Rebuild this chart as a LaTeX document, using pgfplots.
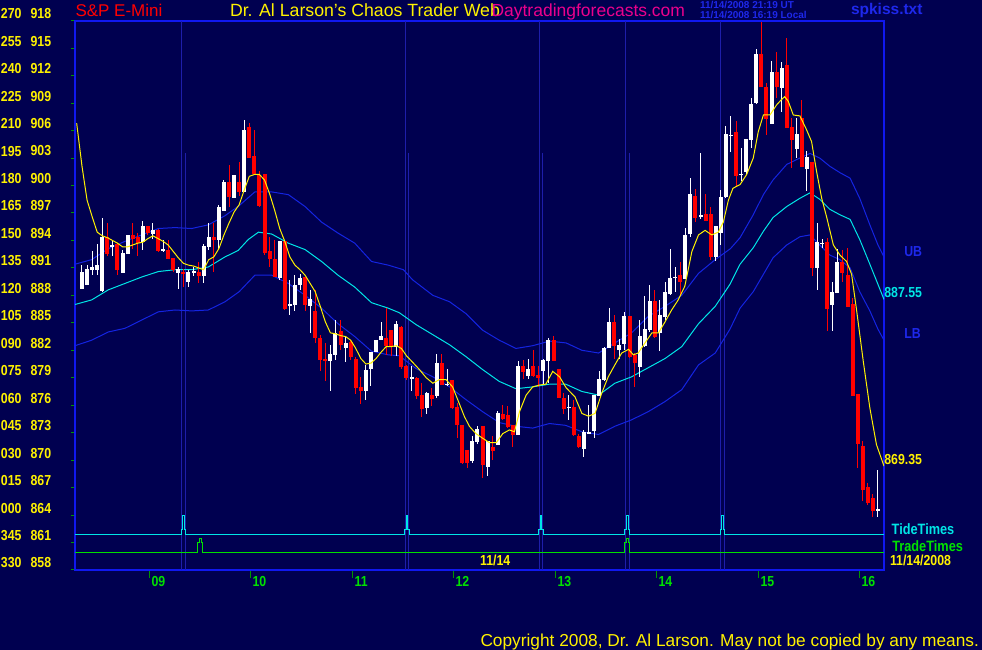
\documentclass[border=0pt]{standalone}
\usepackage{pgfplots}
\usepackage{pgfplotstable}
\pgfplotsset{compat=1.18}
\usepackage{fontspec}
\setmainfont{Liberation Sans}
\newfontfamily\nb[FakeStretch=0.85]{Liberation Sans}
\newcommand\F[1]{\fontsize{#1}{#1}\selectfont}

\definecolor{bg}{RGB}{0,0,80}
\definecolor{frame}{RGB}{16,24,240}
\definecolor{tickgreen}{RGB}{0,150,0}
\definecolor{hourgreen}{RGB}{0,225,0}
\definecolor{bandblue}{RGB}{20,36,225}
\definecolor{midcyan}{RGB}{0,230,230}
\definecolor{tideline}{RGB}{30,30,170}
\definecolor{txtblue}{RGB}{30,40,235}
\definecolor{candlered}{RGB}{255,0,0}

% 3-minute bars, x = bar number
% rising bars (close >= open)
\pgfplotstableread{
i o h l c
0 888.7 891.3 888.7 890.6
1 889.1 891.3 889.1 890.9
2 890.8 892.9 890.2 891.1
3 890.8 893.6 890.2 891.3
4 888.5 896.4 888.4 894.4
6 893.4 893.9 892.3 893.4
8 890.5 892.9 890.5 892.6
9 892.5 894.6 892.5 894.6
12 893.8 896.1 893.0 895.6
14 894.7 895.9 894.2 895.1
16 893.0 894.1 892.7 893.0
19 890.5 891.1 888.7 890.9
21 889.5 890.8 888.9 890.6
22 890.6 891.1 890.1 890.6
24 890.1 893.6 889.4 893.4
25 893.3 895.9 893.0 894.4
27 894.1 897.9 893.0 897.7
28 897.2 900.6 897.2 900.4
30 898.6 901.2 898.6 901.2
32 899.3 907.2 899.3 906.1
39 889.9 893.9 889.7 893.9
41 886.8 889.7 885.9 887.1
42 887.0 890.2 886.3 889.1
43 889.1 890.3 888.6 889.9
45 886.8 888.6 883.9 887.6
49 880.8 882.6 877.6 881.6
50 881.5 885.3 880.9 883.9
52 882.3 883.5 880.7 882.8
56 877.5 880.4 876.6 879.9
57 880.0 881.8 878.1 881.8
58 881.8 883.1 881.8 883.1
59 883.1 885.1 883.1 883.6
62 882.4 885.2 881.4 884.9
65 879.0 880.3 877.6 879.0
68 875.7 877.4 875.1 877.3
70 877.0 881.6 876.8 880.6
72 878.3 880.0 878.1 878.3
77 869.9 872.6 869.7 872.1
78 872.0 873.7 871.8 873.4
80 869.3 872.1 868.3 872.1
82 871.7 875.4 871.7 875.1
86 872.8 880.8 872.8 880.3
88 879.2 881.1 878.9 880.0
91 879.8 881.0 878.2 881.0
92 880.8 883.3 878.4 883.1
96 875.8 877.1 874.4 875.8
99 871.2 873.3 870.4 873.1
100 873.0 876.0 872.9 873.0
101 873.2 877.1 872.4 877.1
102 877.0 879.7 877.0 878.9
103 878.8 882.4 878.7 882.3
104 882.3 886.6 882.3 885.1
106 882.0 883.2 881.1 882.6
107 882.7 886.2 882.0 885.7
110 880.2 885.3 879.1 883.6
111 882.5 887.9 882.4 884.3
112 884.2 889.1 884.0 887.4
114 883.9 887.5 881.9 885.9
115 885.6 889.5 885.3 888.4
116 888.2 893.1 888.0 889.9
117 890.0 891.1 888.4 890.0
119 889.8 895.4 889.8 894.6
120 894.7 900.8 894.4 899.1
122 896.7 903.6 896.3 896.7
125 892.2 895.6 891.7 895.6
126 894.8 899.5 893.5 898.8
127 898.7 906.5 898.6 905.6
128 905.5 907.6 903.7 905.5
130 901.2 904.1 900.5 901.2
131 901.5 905.1 901.3 905.1
132 905.0 909.6 904.1 908.9
133 909.0 914.9 908.9 914.4
136 906.7 913.6 906.7 912.4
138 910.6 913.5 908.0 912.8
141 904.0 907.4 903.0 905.6
143 901.8 903.8 899.4 903.1
145 891.0 895.9 888.6 893.8
146 893.7 894.1 893.2 893.7
148 887.0 889.5 884.1 888.4
149 888.3 893.1 888.3 891.6
157 864.6 868.9 863.8 864.6
}\upbars

% falling bars (close < open)
\pgfplotstableread{
i o h l c
5 894.4 895.9 892.3 892.5
7 893.6 893.7 890.2 890.8
10 894.6 895.9 893.1 894.2
11 894.4 894.8 892.3 893.7
13 895.6 895.6 894.6 894.8
15 895.1 895.3 892.7 892.8
17 893.0 894.1 892.0 892.0
18 892.1 892.1 890.5 890.8
20 890.6 890.9 888.9 890.4
23 890.6 891.6 889.4 890.1
26 894.4 895.9 890.6 894.0
29 900.4 902.2 897.7 898.7
31 900.4 902.6 898.9 899.3
33 906.4 906.8 903.0 903.0
34 903.2 906.1 901.3 901.3
35 901.2 901.6 897.7 897.8
36 901.2 901.2 892.4 892.6
37 892.9 894.4 891.1 892.0
38 892.0 894.1 890.0 890.0
40 893.9 893.9 886.4 886.5
44 890.0 890.0 886.3 887.0
46 886.3 888.6 882.8 883.3
47 883.4 883.7 879.7 881.0
48 881.1 882.8 878.7 880.8
51 884.1 885.3 882.0 882.6
53 882.9 883.1 880.9 881.3
54 881.1 881.3 877.2 877.9
55 878.0 879.1 876.1 877.5
60 883.3 886.6 881.5 882.5
61 884.2 884.2 881.4 882.5
63 884.6 884.6 880.0 880.2
64 880.3 880.4 878.8 879.0
66 879.0 879.1 876.7 877.0
67 877.1 878.4 874.7 875.6
69 877.1 877.9 875.9 876.7
71 880.6 881.6 878.2 878.2
73 878.8 878.8 875.6 875.7
74 875.8 876.3 872.4 873.8
75 873.8 873.8 869.6 869.7
76 871.1 871.1 869.1 869.7
79 873.7 873.7 868.1 869.5
81 871.4 872.6 870.0 871.0
83 875.1 876.0 874.4 874.5
84 874.9 875.9 873.5 873.6
85 873.8 873.8 871.4 872.8
87 880.3 881.0 878.9 879.6
89 880.3 882.0 879.1 879.2
90 879.3 880.3 878.0 879.0
93 883.1 883.6 880.8 880.8
94 880.0 880.0 876.8 876.8
95 876.8 877.3 875.1 875.6
97 875.8 876.6 872.6 872.8
98 872.6 872.9 871.3 871.4
105 885.1 885.9 881.1 882.5
108 885.7 885.7 881.2 881.3
109 881.5 881.7 878.0 880.6
113 887.4 888.6 883.4 883.5
118 890.2 891.7 887.9 889.5
121 898.9 899.6 896.0 896.5
123 896.9 899.1 896.1 896.1
124 896.9 897.7 891.9 892.2
129 905.8 907.1 899.9 901.1
134 914.4 917.9 910.8 910.8
135 910.8 911.2 905.5 907.3
137 912.4 914.6 909.6 910.8
139 913.2 916.1 906.3 906.3
140 906.4 907.4 901.9 905.0
142 907.4 909.4 902.0 902.0
144 902.6 902.6 890.1 891.0
147 893.8 894.3 884.1 886.5
150 891.6 893.0 889.5 890.4
151 890.2 893.2 886.7 886.7
152 887.1 887.7 877.0 877.0
153 877.2 877.2 869.1 871.8
154 871.6 872.1 865.5 866.8
155 867.1 867.5 865.1 865.3
156 865.9 866.3 863.8 864.5
}\downbars

\begin{document}
\begin{tikzpicture}[every node/.style={inner sep=0pt, outer sep=0pt}]
\useasboundingbox (0,0) rectangle (982pt,650pt);
\fill[bg] (0,0) rectangle (982pt,650pt);

\begin{axis}[
  at={(75pt,80pt)}, anchor=south west,
  scale only axis, width=809pt, height=549.3pt,
  xmin=-1.38, xmax=158.19, ymin=858, ymax=918,
  axis line style={draw=frame, line width=2pt},
  xtick={13.27,33.2,53.31,73.23,93.35,113.27,133.39,153.31}, xticklabels={},
  ytick={858,861,...,918}, yticklabels={},
  tick align=outside, xtick pos=bottom, ytick pos=left,
  xtick style={draw=tickgreen, line width=1pt, /pgfplots/major tick length=8pt},
  ytick style={draw=tickgreen, line width=1pt, /pgfplots/major tick length=4pt},
  unbounded coords=jump,
  candle/.style 2 args={draw=none, mark=none, forget plot,
    error bars/.cd, y dir=both, y explicit, error mark=none,
    error bar style={draw=#1, line width=#2, solid}},
]

% tide-time markers
\addplot[tideline, line width=0.8pt] coordinates {
 (19.63,858) (19.63,918) (19.63,nan)
 (20.33,858) (20.33,903.55) (20.33,nan)
 (63.75,858) (63.75,918) (63.75,nan)
 (64.45,858) (64.45,903.55) (64.45,nan)
 (90.15,858) (90.15,918) (90.15,nan)
 (90.85,858) (90.85,903.55) (90.85,nan)
 (107.2,858) (107.2,918) (107.2,nan)
 (107.9,858) (107.9,903.55) (107.9,nan)
 (125.95,858) (125.95,918) (125.95,nan)
 (126.65,858) (126.65,903.55)
};

% bands
\addplot[bandblue, line width=1pt] coordinates {
(-1.38,891.4) (1.9,891.9) (5.19,893.1) (8.48,893.9) (11.77,894.6) (15.06,895.3) (18.34,895.4) (21.63,895.3) (24.92,895.7) (28.21,896.7) (31.0,897.8) (34.1,899.3) (37.4,899.3) (40.7,899.0) (44.0,897.7) (47.25,896.0) (50.5,894.8) (53.8,893.7) (57.1,891.7) (60.4,891.3) (63.4,890.8) (65.2,889.7) (69.2,888.0) (72.5,887.3) (75.75,886.0) (79.0,884.2) (82.3,883.1) (85.6,882.2) (88.9,882.5) (92.2,883.0) (95.5,882.8) (98.6,882.0) (101.9,881.7) (105.1,882.8) (108.4,883.9) (111.7,885.7) (115.0,886.8) (118.3,888.0) (121.6,890.4) (124.9,891.9) (127.9,893.1) (129.8,894.3) (132.4,896.8) (134.4,899.0) (136.3,900.6) (139.0,902.3) (141.6,903.0) (143.6,903.5) (145.5,903.0) (147.5,902.1) (149.5,901.4) (151.5,900.8) (153.4,898.6) (155.4,895.7) (157.0,893.5) (158.19,892.2)
};
\addplot[bandblue, line width=1pt] coordinates {
(-1.38,882.5) (1.9,883.1) (5.19,884.0) (8.48,884.4) (11.77,885.3) (15.06,886.2) (18.34,886.4) (21.63,886.3) (24.92,886.4) (28.21,887.3) (31.0,888.4) (34.1,890.2) (37.4,890.2) (40.7,889.3) (44.0,888.0) (47.25,886.6) (50.5,884.9) (53.8,883.5) (57.1,881.9) (60.4,881.5) (62.6,881.4) (65.9,880.0) (69.2,879.1) (72.5,878.0) (75.75,876.6) (79.0,875.3) (82.3,874.1) (85.6,873.7) (88.9,873.5) (92.2,874.0) (95.4,873.8) (98.6,873.1) (101.9,872.8) (105.1,873.7) (108.4,874.4) (111.7,875.3) (115.0,876.4) (118.3,877.7) (121.6,880.4) (124.9,881.7) (127.8,884.3) (129.8,886.6) (132.4,888.4) (134.4,890.3) (136.3,892.1) (139.0,893.5) (141.6,894.4) (143.6,894.6) (145.5,893.5) (147.5,892.4) (149.5,891.9) (151.5,891.0) (153.4,888.4) (155.4,886.3) (157.0,884.3) (158.19,883.1)
};
\addplot[midcyan, line width=1pt] coordinates {
(-1.38,887.0) (1.9,887.5) (5.19,888.6) (8.48,889.3) (11.77,890.0) (15.06,890.6) (18.34,890.8) (21.63,890.8) (24.92,891.1) (28.21,892.2) (30.8,892.9) (32.8,894.1) (34.8,894.9) (37.4,894.7) (40.7,893.7) (44.0,893.0) (47.25,891.7) (50.5,890.2) (53.8,888.9) (57.1,887.2) (60.4,886.6) (62.6,886.1) (65.9,884.8) (69.2,883.7) (72.5,882.6) (75.75,881.3) (79.0,879.9) (82.3,878.6) (85.6,877.8) (88.9,878.0) (92.2,878.3) (95.4,878.3) (98.6,877.5) (101.9,877.1) (105.1,878.4) (108.4,879.1) (111.7,880.1) (115.0,881.1) (118.3,882.4) (121.6,884.9) (124.9,886.8) (127.8,889.2) (129.8,891.4) (132.4,893.2) (134.4,895.0) (136.3,896.5) (139.0,897.7) (141.6,898.6) (143.6,899.2) (145.5,898.5) (147.5,897.4) (149.5,896.8) (151.5,896.3) (153.4,894.1) (155.4,891.4) (157.0,889.2) (158.19,887.55)
};

% TideTimes and TradeTimes traces
\addplot[midcyan, line width=1pt] coordinates {
(-1.38,861.9) (19.53,861.9) (19.53,862.37) (19.83,862.37) (19.83,863.9) (20.13,863.9) (20.13,862.37) (20.43,862.37) (20.43,861.9)
(63.65,861.9) (63.65,862.37) (63.95,862.37) (63.95,863.9) (64.25,863.9) (64.25,862.37) (64.55,862.37) (64.55,861.9)
(90.05,861.9) (90.05,862.37) (90.35,862.37) (90.35,863.9) (90.65,863.9) (90.65,862.37) (90.95,862.37) (90.95,861.9)
(107.1,861.9) (107.1,862.37) (107.4,862.37) (107.4,863.9) (107.7,863.9) (107.7,862.37) (108.0,862.37) (108.0,861.9)
(125.85,861.9) (125.85,862.37) (126.15,862.37) (126.15,863.9) (126.45,863.9) (126.45,862.37) (126.75,862.37) (126.75,861.9)
(158.19,861.9)
};
\addplot[hourgreen, line width=1pt] coordinates {
(-1.38,859.93) (22.88,859.93) (22.88,860.98) (23.18,860.98) (23.18,861.47) (23.48,861.47) (23.48,860.98) (23.78,860.98) (23.78,859.93)
(107.1,859.93) (107.1,860.98) (107.4,860.98) (107.4,861.47) (107.7,861.47) (107.7,860.98) (108.0,860.98) (108.0,859.93)
(158.19,859.93)
};

% candles: wicks then bodies
\addplot[candle={white}{1pt}]
  table[x=i, y expr={(\thisrow{h}+\thisrow{l})/2}, y error expr={(\thisrow{h}-\thisrow{l})/2}] {\upbars};
\addplot[candle={white}{4pt}]
  table[x=i, y expr={(\thisrow{o}+\thisrow{c})/2}, y error expr={max(abs(\thisrow{c}-\thisrow{o})/2,0.055)}] {\upbars};
\addplot[candle={candlered}{1pt}]
  table[x=i, y expr={(\thisrow{h}+\thisrow{l})/2}, y error expr={(\thisrow{h}-\thisrow{l})/2}] {\downbars};
\addplot[candle={candlered}{4pt}]
  table[x=i, y expr={(\thisrow{o}+\thisrow{c})/2}, y error expr={max(abs(\thisrow{c}-\thisrow{o})/2,0.055)}] {\downbars};

% short moving average
\addplot[yellow, line width=1pt] coordinates {
(-1.05,906.8) (0,902.1) (1,898.4) (2,896.6) (3,894.9) (4,894.5) (5,894.3) (6,894.0) (7,893.7) (8,893.3) (9,893.3) (10,893.5) (11,893.7) (12,893.8) (13,894.2) (14,894.5) (15,894.2) (16,893.9) (17,893.5) (18,892.8) (19,892.1) (20,891.5) (21,891.3) (22,891.2) (23,891.0) (24,890.8) (25,891.9) (26,892.2) (27,893.1) (28,894.6) (29,895.9) (30,897.1) (31,897.9) (32,899.5) (33,901.0) (34,901.2) (35,901.2) (36,900.6) (37,899.1) (38,897.3) (39,895.3) (40,893.9) (41,892.2) (42,891.3) (43,890.8) (44,890.2) (45,889.3) (46,888.4) (47,886.8) (48,885.1) (49,883.9) (50,883.8) (51,883.6) (52,883.5) (53,883.1) (54,882.2) (55,881.1) (56,880.5) (57,880.6) (58,881.1) (59,881.8) (60,882.4) (61,882.4) (62,882.5) (63,882.2) (64,881.4) (65.2,880.7) (66.55,879.9) (67.9,879.0) (69.2,878.4) (70.5,878.8) (71.8,878.8) (73.1,878.0) (74.4,876.2) (75.4,874.8) (76.4,873.7) (77.7,872.9) (79.0,872.4) (80.4,871.9) (81.7,871.9) (83.0,872.9) (84.3,873.3) (85.3,873.1) (86.3,875.3) (87.6,877.1) (88.9,878.0) (90.2,878.2) (91.5,878.3) (92.85,879.7) (94.2,879.1) (95.5,877.9) (97.25,876.9) (98.6,875.1) (99.9,874.8) (101.2,875.1) (102.5,877.3) (103.8,879.1) (105.1,880.4) (106.45,881.7) (107.8,882.1) (108.75,881.5) (109.7,881.7) (111.05,882.8) (112.4,883.9) (113.7,883.9) (115.0,885.1) (116.3,886.4) (117.6,887.5) (118.9,889.0) (120.3,892.8) (121.6,894.6) (122.9,895.1) (124.2,894.6) (125.5,894.9) (126.5,896.0) (127.5,898.4) (128.4,899.7) (129.8,900.1) (131.1,901.2) (132.4,903.0) (133.4,905.9) (134.4,907.7) (135.7,907.7) (137.0,908.8) (138.0,909.4) (138.6,909.7) (139.3,909.2) (140.3,907.7) (141.6,907.6) (142.9,906.1) (143.9,904.8) (144.9,901.5) (145.9,898.6) (146.9,896.5) (148.2,893.5) (149.5,892.4) (150.8,891.7) (151.8,890.3) (152.8,886.3) (154.1,880.8) (155.4,875.7) (156.7,871.7) (158.19,869.35)
};

\node[anchor=center, text=yellow, font=\nb\bfseries\F{14.5pt}] at (axis cs:81.5,858) [yshift=10pt] {11/14};
\end{axis}

% price and angle scale
\foreach \a/\b [count=\k from 0] in {270/918,255/915,240/912,225/909,210/906,195/903,180/900,165/897,150/894,135/891,120/888,105/885,090/882,075/879,060/876,045/873,030/870,015/867,000/864,345/861,330/858}{
  \node[anchor=east, text=yellow, font=\nb\bfseries\F{14.5pt}] at ({21.5pt},{636.3pt-27.465pt*\k}) {\a};
  \node[anchor=east, text=yellow, font=\nb\bfseries\F{14.5pt}] at ({51.2pt},{636.3pt-27.465pt*\k}) {\b};
}

% hour labels
\foreach \x/\h in {151.6/09,252.6/10,354.6/11,455.6/12,557.6/13,658.6/14,760.6/15,861.6/16}{
  \node[anchor=west, text=hourgreen, font=\nb\bfseries\F{14.5pt}] at (\x pt,68.3pt) {\h};
}

% header
\node[anchor=base west, text=candlered, font=\F{17pt}] at (75.5pt,633.3pt) {S\&P E-Mini};
\node[anchor=base west, text=yellow, font=\F{17.7pt}] at (230pt,633.3pt) {Dr. Al Larson's Chaos Trader Web};
\node[anchor=base west, text=magenta, font=\F{17.5pt}] at (491.5pt,633.3pt) {Daytradingforecasts.com};
\node[anchor=base west, text=txtblue, font=\bfseries\F{10pt}] at (700pt,641pt) {11/14/2008 21:19 UT};
\node[anchor=base west, text=txtblue, font=\bfseries\F{10pt}] at (700pt,631.7pt) {11/14/2008 16:19 Local};
\node[anchor=base west, text=txtblue, font=\bfseries\F{15.5pt}] at (851pt,635.7pt) {spkiss.txt};

% right-hand labels
\node[anchor=west, text=txtblue, font=\nb\bfseries\F{14.5pt}] at (904.3pt,398.3pt) {UB};
\node[anchor=west, text=midcyan, font=\nb\bfseries\F{14.5pt}] at (884.3pt,357.3pt) {887.55};
\node[anchor=west, text=txtblue, font=\nb\bfseries\F{14.5pt}] at (904.3pt,316.7pt) {LB};
\node[anchor=west, text=yellow, font=\nb\bfseries\F{14.5pt}] at (884.3pt,190.3pt) {869.35};
\node[anchor=west, text=midcyan, font=\nb\bfseries\F{15pt}] at (891.7pt,121.2pt) {TideTimes};
\node[anchor=west, text=hourgreen, font=\nb\bfseries\F{15pt}] at (892.3pt,104.2pt) {TradeTimes};
\node[anchor=west, text=yellow, font=\nb\bfseries\F{14.5pt}] at (890pt,90pt) {11/14/2008};

% footer
\node[anchor=base west, text=yellow, font=\F{17.3pt}] at (480.5pt,3.3pt) {Copyright 2008, Dr. Al Larson. May not be copied by any means.};
\end{tikzpicture}
\end{document}
